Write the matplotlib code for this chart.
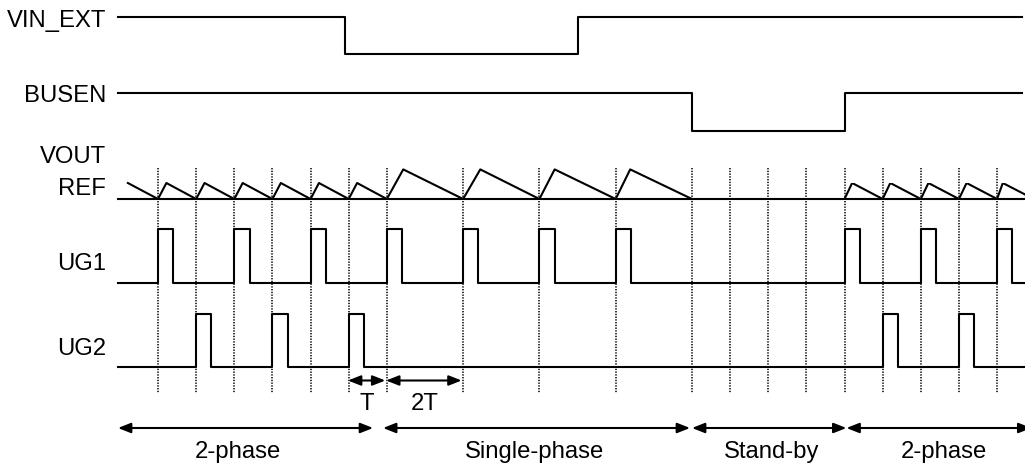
import matplotlib
matplotlib.use("Agg")
import matplotlib.pyplot as plt

# ---------------- data (time in units of T) ----------------
signal_start = -1.05
signal_end = 22.65

vin_ext_t = [-1.05, 4.9, 11.0, 22.65]
vin_ext_v = [1, 0, 1, 1]

busen_t = [-1.05, 14.0, 18.0, 22.65]
busen_v = [1, 0, 1, 1]

ug1_rise = [0, 2, 4, 6, 8, 10, 12, 18, 20, 22]
ug2_rise = [1, 3, 5, 19, 21]
pulse_width = 0.4

# VOUT sawtooth vertices (level relative to REF; 1 = 2-phase ripple peak)
vout_t = [-0.79, 0, 0.22, 1, 1.22, 2, 2.22, 3, 3.22, 4, 4.22, 5, 5.22, 6,
          6.43, 8, 8.45, 10, 10.4, 12, 12.38, 14]
vout_v = [1, 0, 1, 0, 1, 0, 1, 0, 1, 0, 1, 0, 1, 0,
          1.85, 0, 1.85, 0, 1.85, 0, 1.85, 0]
vout2_t = [18, 18.2, 19, 19.2, 20, 20.2, 21, 21.2, 22, 22.15, 22.8]
vout2_v = [0, 1, 0, 1, 0, 1, 0, 1, 0, 1, 0.2]

grid_t = [0, 1, 2, 3, 4, 5, 6, 8, 10, 12, 14, 15, 16, 17, 18, 19, 20, 21, 22]

period_marks = [(5, 6, "T"), (6, 8, "2T")]
phases = [(-1.05, 5.64, "2-phase", 2.1),
          (5.9, 13.95, "Single-phase", 9.88),
          (14.0, 18.05, "Stand-by", 16.1),
          (18.05, 22.9, "2-phase", 20.6)]

# ---------------- layout ----------------
W, H = 1025, 465
X0, TPX = 158.0, 38.14          # pixel of t=0, pixels per T
xlim = (-X0 / TPX, (W - X0) / TPX)
LW = 1.5
FS = 17.2
FONT = "Liberation Sans"

fig = plt.figure(figsize=(W / 100, H / 100), dpi=100)
ax = fig.add_axes([0, 0, 1, 1])
ax.set_xlim(*xlim)
ax.set_ylim(H, 0)
ax.axis("off")


def lane(y_low, y_high):
    a = fig.add_axes([0, 1 - y_low / H, 1, (y_low - y_high) / H])
    a.set_xlim(*xlim)
    a.set_ylim(0, 1)
    a.axis("off")
    a.patch.set_alpha(0)
    return a


def pulses(rises, width, t0, t1):
    ts, vs = [t0], [0]
    for r in rises:
        ts += [r, r + width]
        vs += [1, 0]
    ts.append(t1)
    vs.append(0)
    return ts, vs


# dotted grid
ax.vlines(grid_t, 168, 393, colors="black", linewidth=1.1,
          linestyles=(0, (0.9, 0.9)))

# VIN_EXT
a = lane(54, 17)
a.step(vin_ext_t, vin_ext_v, where="post", color="black", lw=LW, clip_on=False)
# BUSEN
a = lane(131, 93)
a.step(busen_t, busen_v, where="post", color="black", lw=LW, clip_on=False)
# VOUT / REF
a = lane(199, 183)
a.plot([signal_start, xlim[1] + 0.1], [0, 0], color="black", lw=LW, clip_on=False)
a.plot(vout_t, vout_v, color="black", lw=LW, clip_on=False)
a.plot(vout2_t, vout2_v, color="black", lw=LW, clip_on=True)
# UG1
a = lane(283, 229)
t, v = pulses(ug1_rise, pulse_width, signal_start, xlim[1] + 0.1)
a.step(t, v, where="post", color="black", lw=LW, clip_on=False)
# UG2
a = lane(367, 314)
t, v = pulses(ug2_rise, pulse_width, signal_start, xlim[1] + 0.1)
a.step(t, v, where="post", color="black", lw=LW, clip_on=False)

# labels
lx = (106 - X0) / TPX
for txt, yb in [("VIN_EXT", 27), ("BUSEN", 102), ("VOUT", 163), ("REF", 195),
                ("UG1", 270), ("UG2", 355)]:
    ax.text(lx, yb, txt, ha="right", va="baseline", fontsize=FS, family=FONT)

# period arrows
gap = 1.5 / TPX
arrow_small = dict(arrowstyle="<|-|>,head_length=0.38,head_width=0.15",
                   color="black", lw=LW, shrinkA=0, shrinkB=0, mutation_scale=20)
for t0, t1, txt in period_marks:
    ax.annotate("", xy=(t1 - gap, 380.5), xytext=(t0 - gap * 0.5, 380.5),
                arrowprops=arrow_small)
    ax.text((t0 + t1) / 2 - 0.02, 410, txt, ha="center", va="baseline",
            fontsize=FS, family=FONT)

# phase arrows
for t0, t1, txt, tc in phases:
    ax.annotate("", xy=(t1, 428), xytext=(t0, 428), arrowprops=arrow_small,
                annotation_clip=False)
    ax.text(tc, 458, txt, ha="center", va="baseline", fontsize=FS, family=FONT)

fig.savefig("out.png", dpi=100)
